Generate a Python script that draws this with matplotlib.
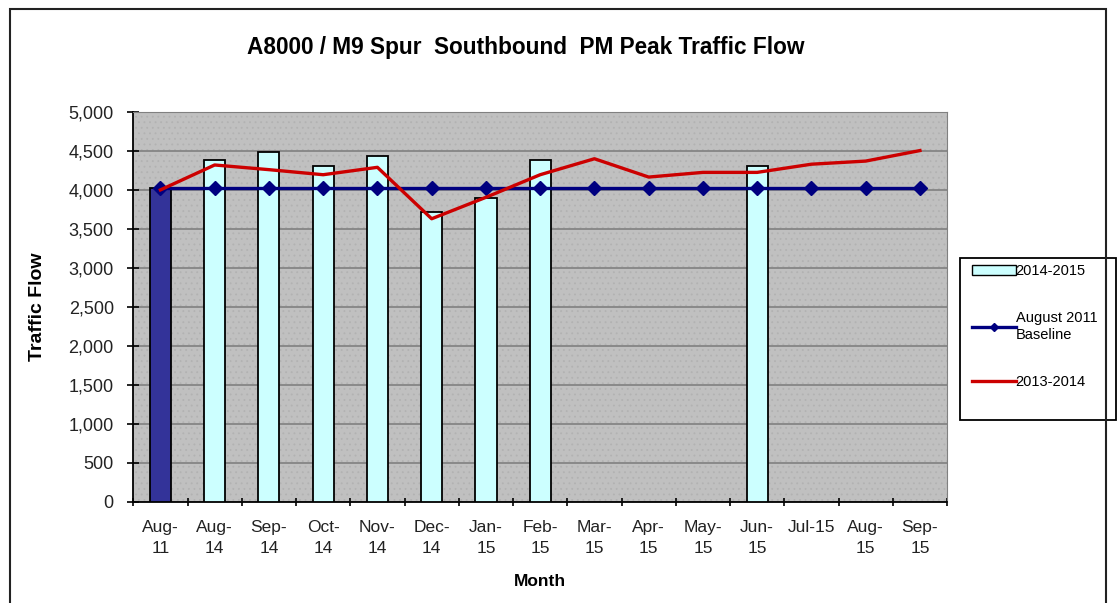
import numpy as np
import matplotlib
matplotlib.use("Agg")
import matplotlib.pyplot as plt
from matplotlib.patches import Rectangle, Patch
from matplotlib.lines import Line2D

plt.rcParams["font.family"] = ["Liberation Sans", "DejaVu Sans"]
plt.rcParams["hatch.linewidth"] = 0.6

months = ["Aug-\n11", "Aug-\n14", "Sep-\n14", "Oct-\n14", "Nov-\n14", "Dec-\n14", "Jan-\n15",
          "Feb-\n15", "Mar-\n15", "Apr-\n15", "May-\n15", "Jun-\n15", "Jul-15", "Aug-\n15", "Sep-\n15"]
flow_2014_15 = [4025, 4380, 4490, 4305, 4430, 3720, 3900, 4380,
                np.nan, np.nan, np.nan, 4305, np.nan, np.nan, np.nan]
baseline_2011 = [4020] * 15
flow_2013_14 = [4000, 4320, 4260, 4195, 4290, 3630, 3905, 4195,
                4400, 4165, 4225, 4225, 4330, 4370, 4505]

fig = plt.figure(figsize=(11.2, 6.03), dpi=100)
ax = fig.add_axes([0.119, 0.168, 0.7266, 0.6463])
ax.set_facecolor("#c0c0c0")
# dotted texture of the plot area
ax.add_patch(Rectangle((0, 0), 1, 1, transform=ax.transAxes, fill=False,
                       hatch="...", edgecolor="#b2b2b2", lw=0, zorder=0.5))

x = np.arange(len(months))
bar_colors = ["#333399"] + ["#ccffff"] * (len(months) - 1)
ax.bar(x, flow_2014_15, width=0.39, color=bar_colors, edgecolor="black", linewidth=1.3, zorder=3)
ax.plot(x, baseline_2011, color="#000080", lw=2.4, marker="D", markersize=7, zorder=4)
ax.plot(x, flow_2013_14, color="#cc0000", lw=2.4, zorder=5)

ax.set_xlim(-0.5, len(months) - 0.5)
ax.set_ylim(0, 5000)
ax.set_yticks(np.arange(0, 5001, 500))
ax.set_yticklabels([f"{v:,}" for v in range(0, 5001, 500)])
ax.yaxis.grid(True, color="#808080", lw=1.2, zorder=1)
ax.set_axisbelow(True)

ax.set_xticks(x)
ax.set_xticklabels(months, linespacing=1.5)
ax.set_xticks(np.arange(-0.5, len(months)), minor=True)
ax.tick_params(axis="x", which="major", length=0, pad=13, labelsize=12.5, colors="#222222")
ax.tick_params(axis="x", which="minor", length=6, width=1.2, direction="inout")
ax.tick_params(axis="y", length=8, width=1.2, direction="inout", labelsize=13, pad=10,
               labelcolor="#222222")

for s in ["top", "right"]:
    ax.spines[s].set_color("#808080")
for s in ["left", "bottom"]:
    ax.spines[s].set_linewidth(1.3)

ax.set_xlabel("Month", fontsize=12.5, fontweight="bold", labelpad=13)
ax.set_ylabel("Traffic Flow", fontsize=14, fontweight="bold", labelpad=16)
fig.text(0.469, 0.921, "A8000 / M9 Spur  Southbound  PM Peak Traffic Flow",
         ha="center", va="center", fontsize=16.3, fontweight="bold")

# legend box drawn separately so its size can match the reference
fig.patches.append(Rectangle((960 / 1120, 1 - 420 / 603), 156 / 1120, 162 / 603,
                             transform=fig.transFigure, facecolor="white",
                             edgecolor="black", lw=1.3))
handles = [Patch(facecolor="#ccffff", edgecolor="black"),
           Line2D([], [], color="#000080", lw=2.4, marker="D", markersize=4),
           Line2D([], [], color="#cc0000", lw=2.4)]
labels = ["2014-2015", "August 2011\nBaseline", "2013-2014"]
fig.legend(handles, labels, loc="upper left",
           bbox_to_anchor=(966 / 1120, 1 - 258 / 603),
           fontsize=10.5, frameon=False,
           labelspacing=2.3, handlelength=3.0, handletextpad=0.0,
           borderpad=0.4, borderaxespad=0)

fig.patches.append(Rectangle((10 / 1120, -0.02), 1106 / 1120 - 10 / 1120, 1.0 - 9 / 603 + 0.02,
                             transform=fig.transFigure, fill=False, edgecolor="#222222", lw=1.5))

fig.savefig("out.png", dpi=100)
